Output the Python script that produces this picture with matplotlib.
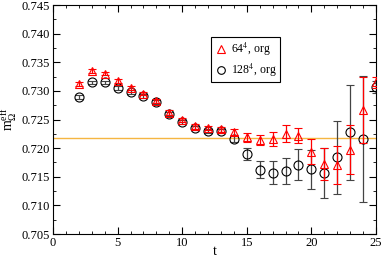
import numpy as np
import matplotlib
matplotlib.use('Agg')
import matplotlib.pyplot as plt
from matplotlib.lines import Line2D
from matplotlib.ticker import MultipleLocator, FormatStrFormatter

plt.rcParams['font.family'] = ['Liberation Serif', 'DejaVu Serif']
plt.rcParams['mathtext.fontset'] = 'stix'

t = np.arange(2, 26)
m64 = [0.7312, 0.7335, 0.7330, 0.7317, 0.7305, 0.7295, 0.7282, 0.7262, 0.7249, 0.7238,
       0.7235, 0.7233, 0.7228, 0.7219, 0.7214, 0.7216, 0.7225, 0.7222, 0.7194, 0.7172,
       0.7170, 0.7197, 0.7267, 0.7315]
e64 = [0.0003, 0.0003, 0.0003, 0.0003, 0.0003, 0.0003, 0.0003, 0.0004, 0.0004, 0.0004,
       0.0004, 0.0004, 0.0005, 0.0008, 0.0009, 0.0012, 0.0015, 0.0013, 0.0022, 0.0028,
       0.0033, 0.0043, 0.0058, 0.0010]
m128 = [0.7289, 0.7315, 0.7315, 0.7305, 0.7298, 0.7291, 0.7281, 0.7260, 0.7246, 0.7235,
        0.7230, 0.7230, 0.7216, 0.7190, 0.7162, 0.7157, 0.7160, 0.7171, 0.7163, 0.7157,
        0.7184, 0.7228, 0.7216, 0.7307]
e128 = [0.0003, 0.0003, 0.0003, 0.0003, 0.0003, 0.0003, 0.0003, 0.0004, 0.0004, 0.0004,
        0.0004, 0.0004, 0.0006, 0.0010, 0.0015, 0.0020, 0.0023, 0.0027, 0.0034, 0.0044,
        0.0064, 0.0083, 0.0110, 0.0010]
fit = 0.7217

fig = plt.figure(figsize=(3.82, 2.59), dpi=100)
ax = fig.add_axes([0.139, 0.0965, 0.845, 0.884])

ax.axhline(fit, color='#f5b642', lw=1.0, zorder=1)
ax.errorbar(t, m64, yerr=e64, fmt='^', mfc='none', mec='red', ecolor='red',
            ms=6, mew=0.8, elinewidth=0.9, capsize=3, capthick=0.9, zorder=3)
ax.errorbar(t, m128, yerr=e128, fmt='o', mfc='none', mec='black', ecolor='#444444',
            ms=6.5, mew=0.8, elinewidth=0.9, capsize=3, capthick=0.9, zorder=2)

ax.set_xlim(0, 25)
ax.set_ylim(0.705, 0.745)
ax.xaxis.set_major_locator(MultipleLocator(5))
ax.xaxis.set_minor_locator(MultipleLocator(1))
ax.yaxis.set_major_locator(MultipleLocator(0.005))
ax.yaxis.set_minor_locator(MultipleLocator(0.0025))
ax.tick_params(which='both', direction='in', top=True, right=True, labelsize=9, pad=2)
ax.tick_params(which='major', length=5)
ax.tick_params(which='minor', length=2.5)
ax.yaxis.set_major_formatter(FormatStrFormatter('%.3f'))
ax.set_xlabel('t', fontsize=10)
ax.xaxis.set_label_coords(0.5, -0.05)
ax.set_ylabel(r'$\mathregular{m_\Omega^{eff}}$', fontsize=10)
ax.yaxis.set_label_coords(-0.105, 0.5)

handles = [Line2D([], [], marker='^', ls='none', mfc='none', mec='red', ms=5.5, mew=0.8),
           Line2D([], [], marker='o', ls='none', mfc='none', mec='black', ms=5.5, mew=0.8)]
leg = ax.legend(handles, [r'64$^4$, org', r'128$^4$, org'], loc='upper left',
                bbox_to_anchor=(0.488, 0.86), fontsize=8.5, fancybox=False, framealpha=1,
                edgecolor='black', handletextpad=0.3, handlelength=1.1, borderpad=0.3,
                labelspacing=0.3, borderaxespad=0)
leg.get_frame().set_linewidth(0.8)

fig.savefig('out.png', dpi=100)
